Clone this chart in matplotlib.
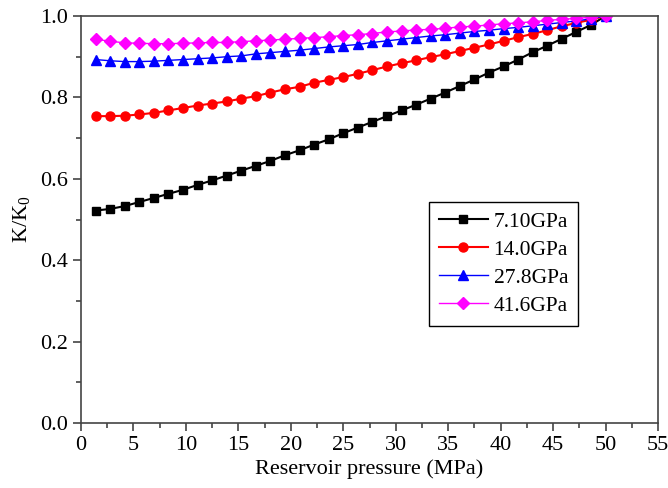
import matplotlib
matplotlib.use("Agg")
from matplotlib import pyplot as plt
from matplotlib.ticker import MultipleLocator, FormatStrFormatter

plt.rc('font', family='Liberation Serif', size=16)
plt.rc('mathtext', fontset='custom', rm='Liberation Serif', it='Liberation Serif:italic')

# reservoir pressure (MPa)
pressure = [1.39, 2.78, 4.17, 5.56, 6.94, 8.33, 9.72, 11.11, 12.50, 13.89,
            15.28, 16.67, 18.06, 19.44, 20.83, 22.22, 23.61, 25.00, 26.39, 27.78,
            29.17, 30.56, 31.94, 33.33, 34.72, 36.11, 37.50, 38.89, 40.28, 41.67,
            43.06, 44.44, 45.83, 47.22, 48.61, 50.00]

# K/K0 for each modulus
k_710 = [0.522, 0.526, 0.533, 0.543, 0.553, 0.563, 0.573, 0.585, 0.596, 0.608,
         0.620, 0.632, 0.644, 0.658, 0.670, 0.684, 0.697, 0.712, 0.726, 0.740,
         0.754, 0.768, 0.782, 0.797, 0.812, 0.828, 0.844, 0.861, 0.876, 0.893,
         0.911, 0.927, 0.944, 0.961, 0.978, 1.000]
k_140 = [0.754, 0.754, 0.755, 0.758, 0.762, 0.768, 0.774, 0.780, 0.785, 0.790,
         0.797, 0.803, 0.812, 0.820, 0.826, 0.836, 0.843, 0.850, 0.858, 0.867,
         0.876, 0.884, 0.891, 0.899, 0.906, 0.914, 0.922, 0.930, 0.939, 0.948,
         0.956, 0.965, 0.975, 0.983, 0.991, 1.000]
k_278 = [0.893, 0.890, 0.888, 0.888, 0.889, 0.891, 0.893, 0.895, 0.897, 0.900,
         0.902, 0.907, 0.910, 0.913, 0.916, 0.920, 0.924, 0.927, 0.930, 0.935,
         0.939, 0.943, 0.947, 0.951, 0.954, 0.958, 0.962, 0.965, 0.969, 0.972,
         0.976, 0.980, 0.984, 0.988, 0.993, 1.000]
k_416 = [0.943, 0.938, 0.934, 0.933, 0.932, 0.932, 0.933, 0.934, 0.935, 0.935,
         0.937, 0.939, 0.941, 0.943, 0.945, 0.947, 0.949, 0.952, 0.954, 0.957,
         0.961, 0.963, 0.966, 0.967, 0.970, 0.973, 0.975, 0.978, 0.981, 0.983,
         0.986, 0.989, 0.992, 0.994, 0.997, 1.000]

labels = ['7.10GPa', '14.0GPa', '27.8GPa', '41.6GPa']


def main():
    fig = plt.figure(figsize=(6.68, 4.88), dpi=100)
    ax = fig.add_axes([0.1213, 0.1332, 0.8637, 0.8340])

    ax.plot(pressure, k_710, '-s', color='black', lw=1.5, ms=5.5, label=labels[0])
    ax.plot(pressure, k_140, '-o', color='red', lw=1.5, ms=6.5, label=labels[1])
    ax.plot(pressure, k_278, '-^', color='blue', lw=1.0, ms=7, label=labels[2])
    ax.plot(pressure, k_416, '-D', color='magenta', lw=1.0, ms=6.5, label=labels[3])

    ax.set_xlim(0, 55)
    ax.set_ylim(0, 1.0)
    ax.xaxis.set_major_locator(MultipleLocator(5))
    ax.xaxis.set_minor_locator(MultipleLocator(2.5))
    ax.yaxis.set_major_locator(MultipleLocator(0.2))
    ax.yaxis.set_minor_locator(MultipleLocator(0.1))
    ax.yaxis.set_major_formatter(FormatStrFormatter('%.1f'))
    ax.tick_params(which='both', direction='out', color='#444444', width=1.2)
    ax.tick_params(which='major', length=6)
    ax.tick_params(which='minor', length=3.5)
    for sp in ax.spines.values():
        sp.set_color('#444444')
        sp.set_linewidth(1.2)

    ax.set_xlabel('Reservoir pressure (MPa)', labelpad=3)
    ax.set_ylabel(r'K/K$_\mathrm{0}$', labelpad=6)

    leg = ax.legend(loc='upper left', bbox_to_anchor=(0.603, 0.543),
                    borderaxespad=0, fancybox=False, edgecolor='black',
                    framealpha=1, fontsize=15.5, handlelength=2.3,
                    handletextpad=0.25, borderpad=0.45, labelspacing=0.37)
    leg.get_frame().set_linewidth(1.0)

    plt.savefig("out.png", dpi=100)


if __name__ == '__main__':
    main()
